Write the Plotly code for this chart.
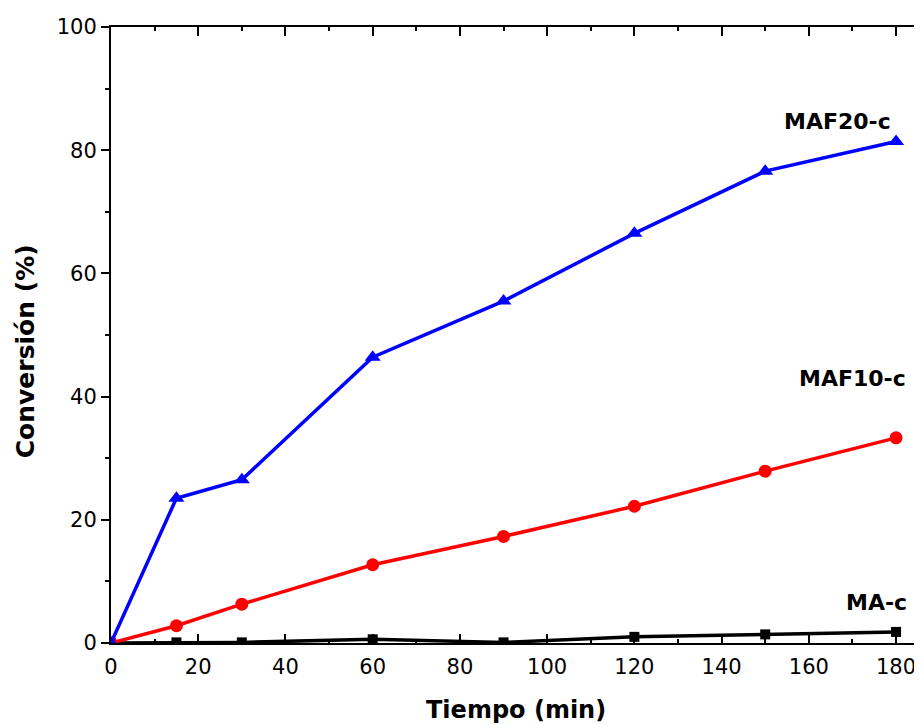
import plotly.graph_objects as go

tiempo = [0, 15, 30, 60, 90, 120, 150, 180]
maf20 = [0, 23.5, 26.5, 46.4, 55.5, 66.5, 76.6, 81.4]
maf10 = [0, 2.8, 6.3, 12.7, 17.3, 22.2, 27.9, 33.3]
ma = [0, 0.1, 0.1, 0.6, 0.1, 1.0, 1.4, 1.8]
labels = ["MAF20-c", "MAF10-c", "MA-c"]
label_x = [179.4, 182.8, 182.9]
label_y = [84.7, 43.0, 6.6]

FONT = "DejaVu Sans"

fig = go.Figure()
fig.add_trace(go.Scatter(x=tiempo, y=ma, mode="lines+markers",
                         line=dict(color="black", width=3.5),
                         marker=dict(symbol="square", size=10, color="black")))
fig.add_trace(go.Scatter(x=tiempo, y=maf10, mode="lines+markers",
                         line=dict(color="#FF0000", width=3.5),
                         marker=dict(symbol="circle", size=13, color="#FF0000")))
fig.add_trace(go.Scatter(x=tiempo, y=maf20, mode="lines+markers",
                         line=dict(color="#0000FF", width=3.5),
                         marker=dict(symbol="triangle-up", size=14, color="#0000FF")))

for t, xv, yv in zip(labels, label_x, label_y):
    fig.add_annotation(x=xv, y=yv, xref="x", yref="y", text="<b>" + t + "</b>",
                       showarrow=False, xanchor="right", yanchor="middle",
                       font=dict(family=FONT, size=22, color="black"))

# axis titles
fig.add_annotation(x=0.5025, y=-0.1088, xref="paper", yref="paper",
                   text="<b>Tiempo (min)</b>", showarrow=False,
                   xanchor="center", yanchor="middle",
                   font=dict(family=FONT, size=24, color="black"))
fig.add_annotation(x=-0.1064, y=0.474, xref="paper", yref="paper",
                   text="<b>Conversión (%)</b>", showarrow=False, textangle=-90,
                   xanchor="center", yanchor="middle",
                   font=dict(family=FONT, size=25, color="black"))

fig.update_layout(
    width=914, height=717,
    margin=dict(l=103, r=3, t=19, b=82),
    paper_bgcolor="white", plot_bgcolor="white",
    showlegend=False,
    font=dict(family=FONT, size=21, color="black"),
    xaxis=dict(range=[0, 184.8], tickmode="array",
               tickvals=[0, 20, 40, 60, 80, 100, 120, 140, 160, 180],
               ticks="inside", ticklen=9, tickwidth=2, tickcolor="black",
               showline=True, linewidth=2, linecolor="black", mirror="ticks",
               showgrid=False, zeroline=False, ticklabelstandoff=4,
               minor=dict(ticks="inside", ticklen=4, tickwidth=2, tickcolor="black",
                          dtick=10, showgrid=False),
               tickfont=dict(family=FONT, size=21)),
    yaxis=dict(range=[0, 100], dtick=20,
               ticks="outside", ticklen=8, tickwidth=2, tickcolor="black",
               showline=True, linewidth=2, linecolor="black", mirror=True,
               showgrid=False, zeroline=False,
               minor=dict(ticks="outside", ticklen=4, tickwidth=2, tickcolor="black",
                          dtick=10, showgrid=False),
               tickfont=dict(family=FONT, size=21)),
)

fig.write_html("out.html")
